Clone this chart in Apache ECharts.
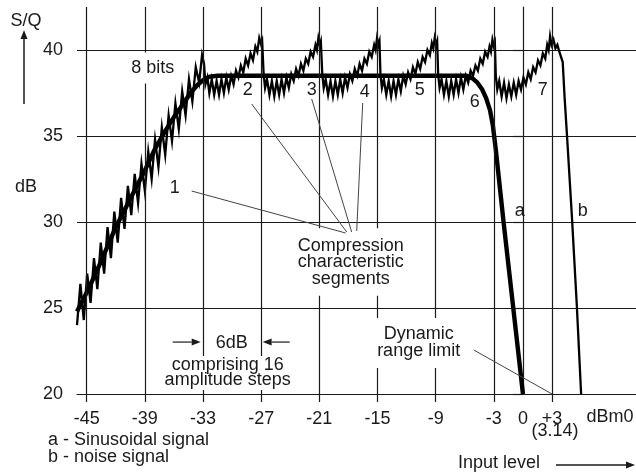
<!DOCTYPE html>
<html><head><meta charset="utf-8">
<script src="https://cdn.jsdelivr.net/npm/echarts@6/dist/echarts.min.js"></script>
<style>html,body{margin:0;padding:0;background:#fff}#c{width:636px;height:473px}</style>
</head><body><div id="c"></div>
<script>
const FONT = '"Liberation Sans", Arial, sans-serif';
const INK = '#1a1a1a';

// axis ticks / labels
const yTicks = [20, 25, 30, 35, 40];
const xTicks = [-45, -39, -33, -27, -21, -15, -9, -3, 3];
const xLabels = [-45, -39, -33, -27, -21, -15, -9, -3, 0, 3];

// curve a : sinusoidal signal (smooth, thick)
const curveA = [
  [-46, 24.8], [-45, 25.9], [-44, 27.1], [-43, 28.4], [-42, 29.7], [-41, 30.8], [-40, 31.9],
  [-39, 33.0], [-38, 34.2], [-37, 35.2], [-36, 36.1], [-35, 36.9], [-34.3, 37.5], [-33.6, 37.95],
  [-33, 38.25], [-32.3, 38.45], [-31.5, 38.5], [-5.8, 38.5], [-5.2, 38.35], [-4.7, 38.1],
  [-4.2, 37.7], [-3.8, 37.2], [-3.4, 36.5], [-3.1, 35.6], [-2.8, 34.2], [-2.0, 30.0],
  [-1.0, 25.0], [0.0, 20.0]
];

// curve b : noise signal (jagged)
const curveB = [
  [-46.00,24.0],[-45.65,26.4],[-45.30,24.3],[-44.95,27.0],[-44.60,25.3],[-44.25,27.9],[-43.90,26.1],
  [-43.55,28.8],[-43.20,27.0],[-42.85,29.7],[-42.50,27.9],[-42.15,30.6],[-41.80,28.8],[-41.45,31.4],
  [-41.10,29.6],[-40.75,32.1],[-40.40,30.4],[-40.05,32.8],[-39.70,31.1],[-39.35,33.4],[-39.00,31.8],
  [-38.65,34.1],[-38.30,32.5],[-37.95,34.8],[-37.60,33.2],[-37.25,35.5],[-36.90,33.9],[-36.55,36.2],
  [-36.20,34.7],[-35.85,36.9],[-35.50,35.4],[-35.15,37.6],[-34.80,36.2],[-34.45,38.3],[-34.10,37.0],
  [-33.75,39.0],[-33.40,38.1],[-33.10,39.7],
  [-32.9,39.2],[-32.75,38.0],[-32.55,38.4],[-32.35,37.5],[-32.1,38.3],[-31.85,37.4],[-31.6,38.2],
  [-31.35,37.4],[-31.1,38.3],[-30.85,37.5],[-30.6,38.4],[-30.35,37.7],[-30.1,38.5],[-29.85,38.0],
  [-29.6,38.8],[-29.35,38.4],[-29.1,39.1],[-28.85,38.7],[-28.6,39.5],[-28.35,39.1],[-28.1,39.8],
  [-27.85,39.4],[-27.6,40.2],[-27.4,39.9],[-27.2,40.7],[-27.0,40.3],[-26.9,40.5],
  [-26.75,38.6],[-26.6,37.8],[-26.4,38.3],[-26.15,37.4],[-25.9,38.2],[-25.65,37.3],[-25.4,38.2],
  [-25.15,37.4],[-24.9,38.3],[-24.65,37.5],[-24.4,38.4],[-24.15,37.8],[-23.9,38.6],[-23.65,38.2],
  [-23.4,38.9],[-23.15,38.5],[-22.9,39.2],[-22.65,38.8],[-22.4,39.5],[-22.15,39.2],[-21.9,39.9],
  [-21.65,39.6],[-21.4,40.3],[-21.25,40.0],[-21.1,40.7],[-20.95,40.3],[-20.85,40.5],
  [-20.7,38.6],[-20.55,37.8],[-20.35,38.3],[-20.1,37.4],[-19.85,38.2],[-19.6,37.3],[-19.35,38.2],
  [-19.1,37.4],[-18.85,38.3],[-18.6,37.5],[-18.35,38.4],[-18.1,37.8],[-17.85,38.6],[-17.6,38.2],
  [-17.35,38.9],[-17.1,38.5],[-16.85,39.2],[-16.6,38.8],[-16.35,39.5],[-16.1,39.2],[-15.85,39.9],
  [-15.6,39.6],[-15.35,40.3],[-15.2,40.0],[-15.05,40.7],[-14.9,40.3],[-14.8,40.5],
  [-14.7,38.6],[-14.55,37.8],[-14.35,38.3],[-14.1,37.4],[-13.85,38.2],[-13.6,37.3],[-13.35,38.2],
  [-13.1,37.4],[-12.85,38.3],[-12.6,37.6],[-12.35,38.5],[-12.1,38.0],[-11.85,38.7],[-11.6,38.3],
  [-11.35,39.0],[-11.1,38.6],[-10.85,39.3],[-10.6,38.9],[-10.35,39.6],[-10.1,39.3],[-9.85,40.0],
  [-9.6,39.7],[-9.4,40.4],[-9.25,40.1],[-9.1,40.7],[-8.95,40.3],[-8.85,40.5],
  [-8.75,38.6],[-8.6,37.8],[-8.4,38.3],[-8.15,37.4],[-7.9,38.2],[-7.65,37.3],[-7.4,38.2],
  [-7.15,37.4],[-6.9,38.3],[-6.65,37.5],[-6.4,38.4],[-6.15,37.7],[-5.9,38.5],[-5.65,38.1],
  [-5.4,38.8],[-5.15,38.5],[-4.9,39.1],[-4.65,38.8],[-4.4,39.5],[-4.15,39.2],[-3.9,39.9],
  [-3.65,39.6],[-3.45,40.2],[-3.3,39.9],[-3.15,40.6],[-3.0,40.2],[-2.9,40.4],
  [-2.8,38.5],[-2.65,37.7],[-2.45,38.2],[-2.2,37.3],[-1.95,38.1],[-1.7,37.2],[-1.45,38.0],
  [-1.2,37.3],[-0.95,38.1],[-0.7,37.4],[-0.45,38.2],[-0.2,37.7],[0.05,38.4],[0.3,38.0],
  [0.55,38.7],[0.8,38.3],[1.05,39.0],[1.3,38.7],[1.55,39.4],[1.8,39.1],[2.05,39.8],[2.3,39.5],
  [2.5,40.3],[2.65,40.0],[2.8,40.8],[2.95,40.3],[3.15,40.6],[3.35,40.1],[3.55,40.3],[3.75,39.9],
  [3.95,40.0],[4.1,39.3],[4.3,37.2],[4.6,34.5],[5.05,30.3],[5.55,25.2],[6.0,20.0]
];

// annotations in data coordinates [text, x, y]
const markLabels = [
  ['1', -35.92, 31.98], ['2', -28.39, 37.67], ['3', -21.79, 37.67], ['4', -16.33, 37.56],
  ['5', -10.65, 37.67], ['6', -4.98, 36.98], ['7', 2.03, 37.67], ['a', -0.34, 30.64], ['b', 6.16, 30.64],
  ['6dB', -30.04, 22.97]
];
const boxedLabels = [
  ['8 bits', -38.19, 38.95, 17, [7, 3]],
  ['Compression\ncharacteristic\nsegments', -17.77, 27.67, 16.5, [9, 3]],
  ['Dynamic\nrange limit', -10.76, 22.97, 17, [8, 4]],
  ['comprising 16\namplitude steps', -30.46, 21.22, 15, [2, 4]]
];
const leaders = [
  [[-34.17, 31.80], [-18.29, 29.36]],
  [[-27.98, 36.86], [-18.18, 29.42]],
  [[-21.79, 37.15], [-17.67, 29.42]],
  [[-16.53, 36.92], [-17.15, 29.48]],
  [[-5.08, 22.56], [3, 20]]
];
const stepArrows = [
  [[-36.13, 23.02], [-33.24, 23.02]],
  [[-24.06, 23.02], [-26.85, 23.02]]
];

const chart = echarts.init(document.getElementById('c'), null, {renderer: 'canvas'});
const axisLine = {color: INK, width: 1.2};
chart.setOption({
  animation: false,
  backgroundColor: '#fff',
  grid: {left: 77, top: 7, right: 0, bottom: 79, containLabel: false},
  xAxis: {
    type: 'value', min: -46, max: 11.66,
    axisLine: {show: true, onZero: false, lineStyle: axisLine},
    axisTick: {show: true, length: 8, customValues: xTicks, lineStyle: axisLine},
    axisLabel: {customValues: xLabels, margin: 16, color: INK, fontSize: 18, fontFamily: FONT,
      formatter: v => (v > 0 ? '+' + v : String(v))},
    splitLine: {show: false}
  },
  yAxis: {
    type: 'value', min: 20, max: 42.5, interval: 5,
    axisLine: {show: true, lineStyle: axisLine},
    axisTick: {show: true, length: 10, customValues: yTicks, lineStyle: axisLine},
    axisLabel: {customValues: yTicks, margin: 14, color: INK, fontSize: 18, fontFamily: FONT},
    splitLine: {show: true, lineStyle: axisLine}
  },
  series: [
    {type: 'line', data: [], z: 1, silent: true,
     markLine: {silent: true, symbol: 'none', label: {show: false},
       lineStyle: {color: INK, width: 1.2, type: 'solid'},
       data: xTicks.map(v => ({xAxis: v}))}},
    {type: 'line', data: curveB, showSymbol: false, symbol: 'none', z: 3,
     lineStyle: {color: '#000', width: 2.3, join: 'miter'}},
    {type: 'line', data: curveA, showSymbol: false, symbol: 'none', z: 4,
     lineStyle: {color: '#000', width: 4.4}}
  ]
});

const P = (x, y) => chart.convertToPixel({gridIndex: 0}, [x, y]);
const g = [];
const font18 = '18px ' + FONT;
function text(s, x, y, extra, z) {
  g.push({type: 'text', z: z || 20, silent: true,
    style: Object.assign({text: s, x: x, y: y, font: font18, fill: INK, align: 'center', verticalAlign: 'middle'}, extra || {})});
}
function line(x1, y1, x2, y2, w, c, z) {
  g.push({type: 'line', z: z || 30, silent: true, shape: {x1, y1, x2, y2}, style: {stroke: c || INK, lineWidth: w || 1}});
}
function arrow(x1, y1, x2, y2, w) {
  const dx = x2 - x1, dy = y2 - y1, L = Math.hypot(dx, dy), ux = dx / L, uy = dy / L;
  const hl = 9, hw = 3.5;
  const bx = x2 - ux * hl, by = y2 - uy * hl;
  line(x1, y1, bx, by, w || 1.3);
  g.push({type: 'polygon', z: 30, silent: true,
    shape: {points: [[x2, y2], [bx - uy * hw, by + ux * hw], [bx + uy * hw, by - ux * hw]]},
    style: {fill: INK}});
}

markLabels.forEach(([s, x, y]) => { const p = P(x, y); text(s, p[0], p[1]); });
boxedLabels.forEach(([s, x, y, lh, pad]) => {
  const p = P(x, y);
  text(s, p[0], p[1], {backgroundColor: '#fff', padding: pad, lineHeight: lh}, 20);
});
leaders.forEach(([a, b]) => { const p = P(a[0], a[1]), q = P(b[0], b[1]); line(p[0], p[1], q[0], q[1], 1, '#444', 30); });
stepArrows.forEach(([a, b]) => { const p = P(a[0], a[1]), q = P(b[0], b[1]); arrow(p[0], p[1], q[0], q[1], 1.2); });

// outside-plot texts
text('S/Q', 26, 21);
arrow(24, 104, 24, 30, 1.5);
text('dB', 26, 187);
text('(3.14)', 555, 431);
text('dBm0', 610, 417);
text('Input level', 458, 463, {align: 'left'});
arrow(556, 465, 635, 465, 1.5);
text('a - Sinusoidal signal', 48, 440, {align: 'left'});
text('b - noise signal', 48, 457, {align: 'left'});

chart.setOption({graphic: {elements: g}});
</script>
</body></html>
